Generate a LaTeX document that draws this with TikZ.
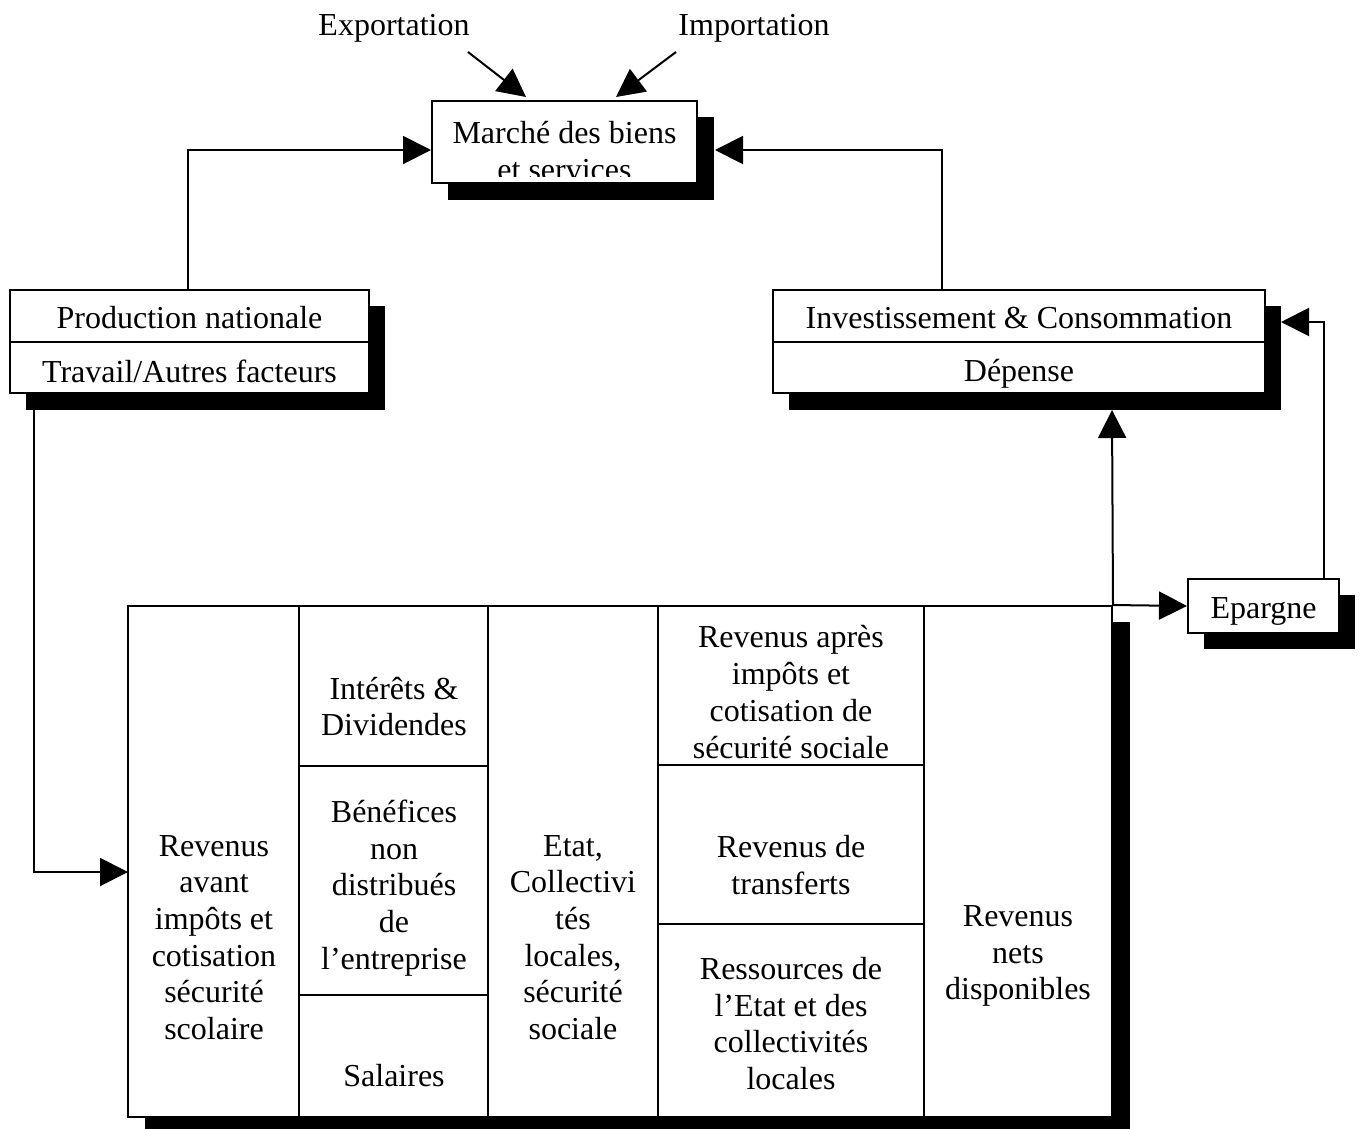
\documentclass[tikz,border=0pt]{standalone}
\usepackage{fontspec}
\setmainfont{Liberation Serif}
\usetikzlibrary{arrows.meta,calc}
\begin{document}
\begin{tikzpicture}[x=1pt,y=-1pt,
  box/.style={draw,line width=2pt,fill=white,inner sep=0pt},
  cell/.style={draw,line width=2pt,inner sep=0pt},
  lbl/.style={font=\fontsize{32}{36.7}\selectfont,align=center,inner sep=0pt},
  conn/.style={line width=2pt,-{Triangle[length=28pt,width=28pt]}},
  plainline/.style={line width=2pt}]
\useasboundingbox (0,0) rectangle (1365,1128);
% shadows
\fill (448,117) rectangle (714,200);
\fill (26,306) rectangle (385,410);
\fill (789,306) rectangle (1281,410);
\fill (1204,595) rectangle (1355,649);
\fill (145,622) rectangle (1130,1130);
% Marche
\node[box,minimum width=265pt,minimum height=82pt] (mar) at (564.5,142) {};
\begin{scope}
\clip ($(mar.north west)+(1,1)$) rectangle ($(mar.south east)+(-1,-8)$);
\node[lbl] (martxt) at (564.5,151) {Marché des biens\\et services};
\end{scope}
% Production
\node[box,minimum width=359pt,minimum height=52pt] (prod1) at (189.5,316) {};
\node[box,minimum width=359pt,minimum height=51pt] (prod2) at (189.5,367.5) {};
\node[lbl] (prodtxt) at (189.5,318) {Production nationale};
\node[lbl] (travtxt) at (189.5,371) {Travail/Autres facteurs};
% Investissement
\node[box,minimum width=492pt,minimum height=52pt] (inv1) at (1019,316) {};
\node[box,minimum width=492pt,minimum height=51pt] (inv2) at (1019,367.5) {};
\node[lbl] (invtxt) at (1019,318) {Investissement \& Consommation};
\node[lbl] (deptxt) at (1019,374) {Dépense};
% Epargne
\node[box,minimum width=151pt,minimum height=54pt] (ep) at (1263.5,606) {};
\node[lbl] (eptxt) at (1263.5,611) {Epargne};
% main table
\node[box,minimum width=984pt,minimum height=511pt] (main) at (620,861.5) {};
\node[cell,minimum width=171pt,minimum height=511pt] (c1) at (213.5,861.5) {};
\node[cell,minimum width=189pt,minimum height=160pt] (c2a) at (393.5,686) {};
\node[cell,minimum width=189pt,minimum height=229pt] (c2b) at (393.5,880.5) {};
\node[cell,minimum width=189pt,minimum height=122pt] (c2c) at (393.5,1056) {};
\node[cell,minimum width=170pt,minimum height=511pt] (c3) at (573,861.5) {};
\node[cell,minimum width=266pt,minimum height=159pt] (c4a) at (791,685.5) {};
\node[cell,minimum width=266pt,minimum height=159pt] (c4b) at (791,844.5) {};
\node[cell,minimum width=266pt,minimum height=193pt] (c4c) at (791,1020.5) {};
\node[cell,minimum width=188pt,minimum height=511pt] (c5) at (1018,861.5) {};
% texts
\node[lbl] (t1) at (214,937.5) {Revenus\\avant\\impôts et\\cotisation\\sécurité\\scolaire};
\node[lbl] (t2a) at (394,706.5) {Intérêts \&\\Dividendes};
\node[lbl] (t2b) at (394,888) {Bénéfices\\non\\distribués\\de\\l’entreprise};
\node[lbl] (t2c) at (394,1076) {Salaires};
\node[lbl] (t3) at (573,937.5) {Etat,\\Collectivi\\tés\\locales,\\sécurité\\sociale};
\node[lbl] (t4a) at (791,692) {Revenus après\\impôts et\\cotisation de\\sécurité sociale};
\node[lbl] (t4b) at (791,865) {Revenus de\\transferts};
\node[lbl] (t4c) at (791,1023.5) {Ressources de\\l’Etat et des\\collectivités\\locales};
\node[lbl] (t5) at (1018,956) {Revenus\\nets\\disponibles};
% top labels
\node[lbl] (exp) at (394,28) {Exportation};
\node[lbl] (imp) at (754,28) {Importation};
% coordinates
\coordinate (expA) at (468,52);
\coordinate (expT) at (526,97);
\coordinate (impA) at (676,52);
\coordinate (impT) at (616,97);
\coordinate (marL) at ($(mar.west)+(0,8)$);
\coordinate (marR) at ($(mar.east)+(17,8)$);
\coordinate (invtop) at ($(inv1.north west)+(170,0)$);
\coordinate (pd) at ($(prod2.south west)+(25,0)$);
\coordinate (mainL) at (128,872);
\coordinate (depB) at (1112,410);
\coordinate (epT) at ($(ep.north east)+(-16,0)$);
\coordinate (invR) at (1281,322);
% connectors
\draw[conn] (expA) -- (expT);
\draw[conn] (impA) -- (impT);
\draw[conn] ($(prod1.north)+(-2,0)$) |- (marL);
\draw[conn] (invtop) |- (marR);
\draw[conn] (pd) |- (mainL);
\draw[conn] (c5.north east) -- (ep.west);
\draw[conn] (c5.north east) -- (depB);
\draw[conn] (epT) |- (invR);
\end{tikzpicture}
\end{document}
